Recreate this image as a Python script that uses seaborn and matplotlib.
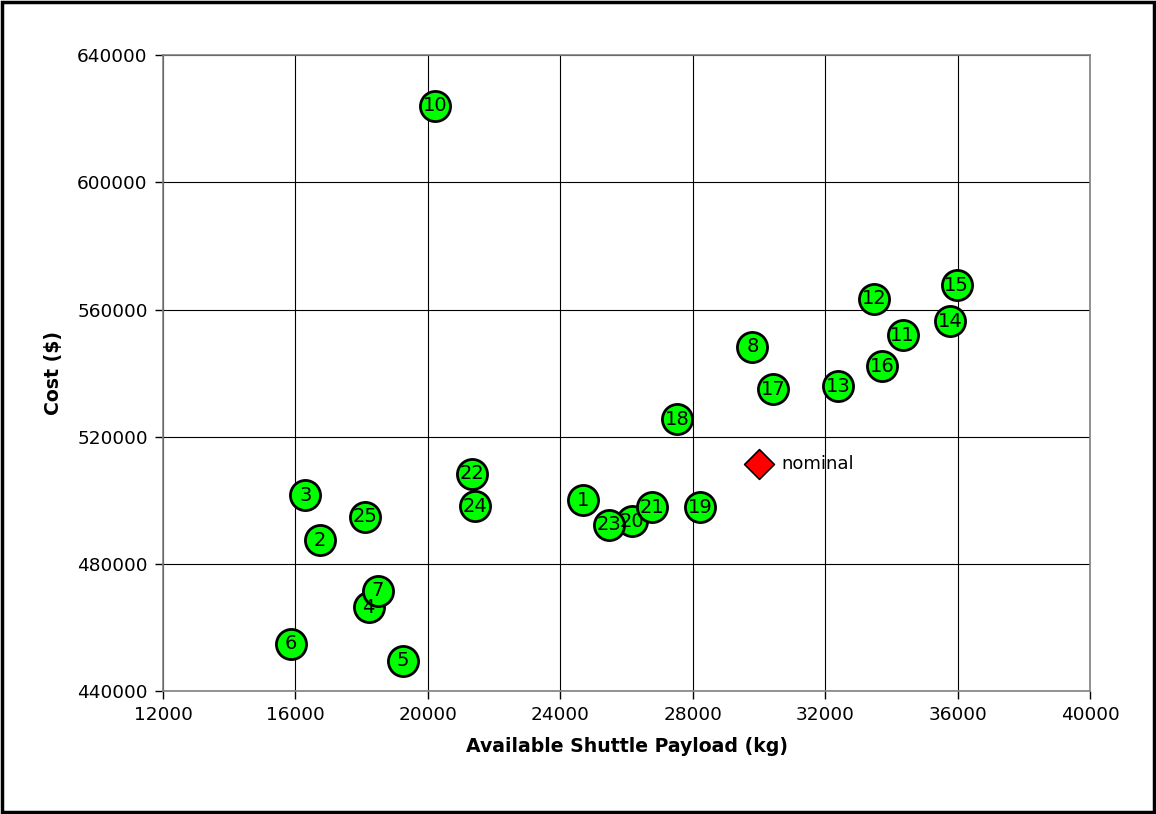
import matplotlib
matplotlib.use("Agg")
import matplotlib.pyplot as plt
import seaborn as sns
import pandas as pd
from matplotlib.patches import Rectangle

# Design alternatives: shuttle payload vs. cost
labels = [str(i) for i in range(1, 26)]
payload_kg = [24680, 16740, 16300, 18210, 19250, 15860, 18480, 29800, None, 20210,
              34340, 33480, 32390, 35770, 35970, 33720, 30430, 27520, 28220, 26170,
              26760, 21340, 25480, 21420, 18100]
cost_usd = [500000, 487400, 501600, 466400, 449500, 454900, 471500, 548300, None, 624100,
            551900, 563500, 535900, 556400, 567700, 542200, 534900, 525500, 497900, 493500,
            497900, 508400, 492400, 498200, 494800]

nominal_payload = [30000]
nominal_cost = [511400]

df = pd.DataFrame({"label": labels, "payload": payload_kg, "cost": cost_usd}).dropna()
nom = pd.DataFrame({"payload": nominal_payload, "cost": nominal_cost})

sns.set_theme(style="white")
plt.rcParams["font.family"] = ["DejaVu Sans"]
plt.rcParams["text.color"] = "black"
plt.rcParams["axes.labelcolor"] = "black"
plt.rcParams["xtick.color"] = "black"
plt.rcParams["ytick.color"] = "black"

fig = plt.figure(figsize=(11.56, 8.14), dpi=100)
ax = fig.add_axes([0.141, 0.151, 0.802, 0.781])

sns.scatterplot(data=df, x="payload", y="cost", ax=ax, s=470, color="#00FF00",
                edgecolor="black", linewidth=2.0, zorder=3, legend=False)
for _, r in df.iterrows():
    ax.text(r["payload"], r["cost"], r["label"], ha="center", va="center",
            fontsize=14, color="black", zorder=4)

sns.scatterplot(data=nom, x="payload", y="cost", ax=ax, s=230, marker="D",
                color="#FF0000", edgecolor="black", linewidth=1.2, zorder=3, legend=False)
ax.annotate("nominal", (nominal_payload[0], nominal_cost[0]), xytext=(16, 0),
            textcoords="offset points", ha="left", va="center", fontsize=13,
            color="black")

ax.set_xlim(12000, 40000)
ax.set_ylim(440000, 640000)
ax.set_xticks(range(12000, 40001, 4000))
ax.set_yticks(range(440000, 640001, 40000))
ax.ticklabel_format(style="plain", useOffset=False)
ax.tick_params(axis="both", which="major", direction="out", length=6, width=1,
               color="black", labelsize=13.3, pad=5, bottom=True, left=True)
ax.grid(True, color="black", linewidth=0.8)
ax.set_axisbelow(True)
for sp in ax.spines.values():
    sp.set_color("#808080")
    sp.set_linewidth(1.2)

ax.set_xlabel("Available Shuttle Payload (kg)", fontsize=13.6, fontweight="bold", labelpad=9)
ax.set_ylabel("Cost ($)", fontsize=13.6, fontweight="bold", labelpad=10)

fig.patches.append(Rectangle((0.002, 0.003), 0.996, 0.994, transform=fig.transFigure,
                             fill=False, edgecolor="black", linewidth=2.5))

fig.savefig("out.png", dpi=100, facecolor="white")
